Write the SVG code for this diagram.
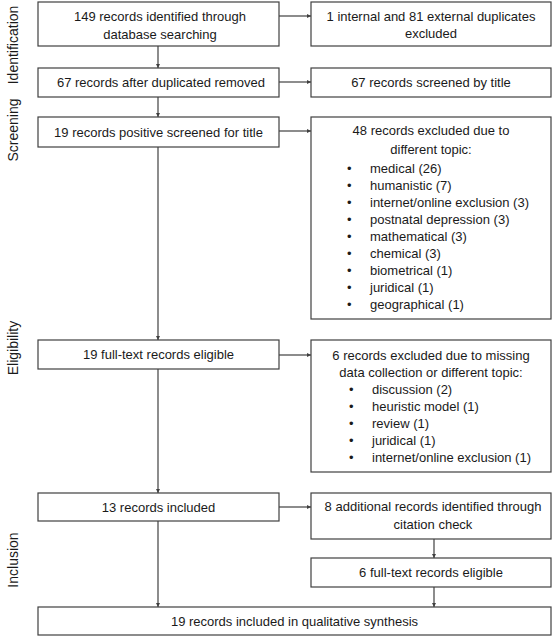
<svg xmlns="http://www.w3.org/2000/svg" width="553" height="637" viewBox="0 0 553 637">
<style>
.box{fill:#fff;stroke:#404040;stroke-width:1.2}
.t{font-family:"Liberation Sans",Arial,sans-serif;font-size:13px;fill:#1a1a1a}
.c{text-anchor:middle}
.side{font-family:"Liberation Sans",Arial,sans-serif;font-size:14px;fill:#1a1a1a;text-anchor:middle}
.ln{stroke:#404040;stroke-width:1.2;fill:none;marker-end:url(#ah)}
</style>
<defs>
<marker id="ah" viewBox="0 0 6 6" refX="6" refY="3" markerWidth="4" markerHeight="4" orient="auto" markerUnits="userSpaceOnUse">
<path d="M0,0 L6,3 L0,6 z" fill="#404040"/>
</marker>
</defs>
<rect width="553" height="637" fill="#fff"/>
<g id="side-labels">
<text class="side" transform="translate(18,45) rotate(-90)">Identification</text>
<text class="side" transform="translate(18,130) rotate(-90)">Screening</text>
<text class="side" transform="translate(18,348) rotate(-90)">Eligibility</text>
<text class="side" transform="translate(18,560) rotate(-90)">Inclusion</text>
</g>
<g id="connectors">
<line class="ln" x1="279" y1="16" x2="311" y2="16"/>
<line class="ln" x1="279" y1="82" x2="311" y2="82"/>
<line class="ln" x1="279" y1="131" x2="311" y2="131"/>
<line class="ln" x1="279" y1="355" x2="311" y2="355"/>
<line class="ln" x1="279" y1="507" x2="311" y2="507"/>
<line class="ln" x1="158" y1="46" x2="158" y2="68"/>
<line class="ln" x1="158" y1="97" x2="158" y2="117"/>
<line class="ln" x1="158" y1="147" x2="158" y2="340"/>
<line class="ln" x1="158" y1="369" x2="158" y2="493"/>
<line class="ln" x1="158" y1="521" x2="158" y2="607"/>
<line class="ln" x1="434" y1="539" x2="434" y2="558"/>
<line class="ln" x1="434" y1="587" x2="434" y2="607"/>
</g>
<g id="n1"><rect class="box" x="38" y="2" width="241" height="44"/>
<text class="t c" x="160" y="21">149 records identified through</text>
<text class="t c" x="160" y="39">database searching</text></g>
<g id="n2"><rect class="box" x="311" y="2" width="240" height="44"/>
<text class="t c" x="431" y="21">1 internal and 81 external duplicates</text>
<text class="t c" x="431" y="38">excluded</text></g>
<g id="n3"><rect class="box" x="38" y="68" width="241" height="29"/>
<text class="t c" x="161" y="87">67 records after duplicated removed</text></g>
<g id="n4"><rect class="box" x="311" y="68" width="240" height="29"/>
<text class="t c" x="431" y="87">67 records screened by title</text></g>
<g id="n5"><rect class="box" x="38" y="117" width="241" height="30"/>
<text class="t c" x="158.5" y="136.5">19 records positive screened for title</text></g>
<g id="n6"><rect class="box" x="311" y="117" width="240" height="202"/>
<text class="t c" x="431" y="135">48 records excluded due to</text>
<text class="t c" x="431" y="154">different topic:</text>
<g class="t">
<text x="347" y="172.5">•</text><text x="370" y="172.5">medical (26)</text>
<text x="347" y="189.6">•</text><text x="370" y="189.6">humanistic (7)</text>
<text x="347" y="206.7">•</text><text x="370" y="206.7">internet/online exclusion (3)</text>
<text x="347" y="223.8">•</text><text x="370" y="223.8">postnatal depression (3)</text>
<text x="347" y="240.9">•</text><text x="370" y="240.9">mathematical (3)</text>
<text x="347" y="258">•</text><text x="370" y="258">chemical (3)</text>
<text x="347" y="275.1">•</text><text x="370" y="275.1">biometrical (1)</text>
<text x="347" y="292.2">•</text><text x="370" y="292.2">juridical (1)</text>
<text x="347" y="309.3">•</text><text x="370" y="309.3">geographical (1)</text>
</g></g>
<g id="n7"><rect class="box" x="38" y="340" width="241" height="29"/>
<text class="t c" x="158.5" y="359">19 full-text records eligible</text></g>
<g id="n8"><rect class="box" x="311" y="340" width="240" height="132"/>
<text class="t c" x="431" y="360">6 records excluded due to missing</text>
<text class="t c" x="431" y="377">data collection or different topic:</text>
<g class="t">
<text x="349" y="394">•</text><text x="372" y="394">discussion (2)</text>
<text x="349" y="411">•</text><text x="372" y="411">heuristic model (1)</text>
<text x="349" y="428">•</text><text x="372" y="428">review (1)</text>
<text x="349" y="445">•</text><text x="372" y="445">juridical (1)</text>
<text x="349" y="462">•</text><text x="372" y="462">internet/online exclusion (1)</text>
</g></g>
<g id="n9"><rect class="box" x="38" y="493" width="241" height="28"/>
<text class="t c" x="158.5" y="512">13 records included</text></g>
<g id="n10"><rect class="box" x="311" y="493" width="240" height="46"/>
<text class="t c" x="433" y="511">8 additional records identified through</text>
<text class="t c" x="433" y="529">citation check</text></g>
<g id="n11"><rect class="box" x="311" y="558" width="240" height="29"/>
<text class="t c" x="431" y="577">6 full-text records eligible</text></g>
<g id="n12"><rect class="box" x="38" y="607" width="513" height="28"/>
<text class="t c" x="294.5" y="626">19 records included in qualitative synthesis</text></g>
</svg>
